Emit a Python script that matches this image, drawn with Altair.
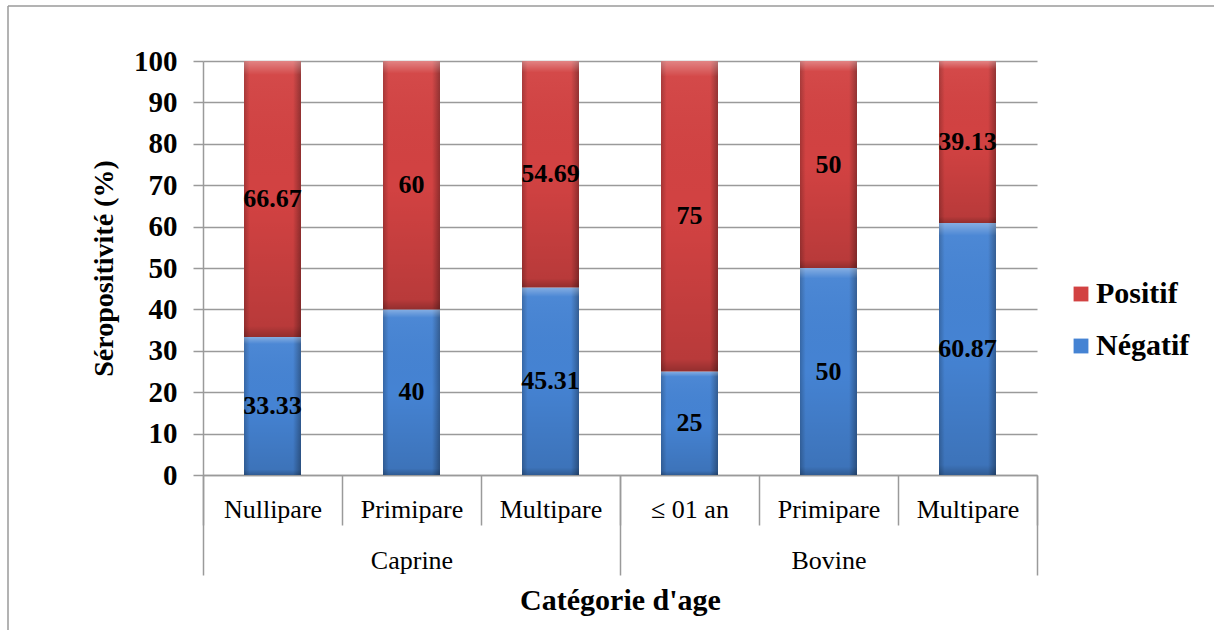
import altair as alt
import pandas as pd

# Séropositivité par catégorie d'âge (en %)
groups = ["Caprine", "Caprine", "Caprine", "Bovine", "Bovine", "Bovine"]
age_classes = ["Nullipare", "Primipare", "Multipare", "≤ 01 an", "Primipare", "Multipare"]
negatif = [33.33, 40, 45.31, 25, 50, 60.87]
positif = [66.67, 60, 54.69, 75, 50, 39.13]
group_order = ["Caprine", "Bovine"]
series = ["Positif", "Négatif"]
series_colors = ["#d24242", "#4583d3"]
y_ticks = list(range(0, 101, 10))

FONT = "Liberation Serif"
GRAY = "#9a9a9a"

keys = [f"{i}|{a}" for i, a in enumerate(age_classes)]
rows = []
for i, k in enumerate(keys):
    rows.append({"key": k, "groupe": groups[i], "serie": "Négatif", "rang": 0, "valeur": negatif[i]})
    rows.append({"key": k, "groupe": groups[i], "serie": "Positif", "rang": 1, "valeur": positif[i]})
df = pd.DataFrame(rows)

base = alt.Chart(df).transform_stack(
    stack="valeur", groupby=["key"], as_=["y0", "y1"],
    sort=[alt.SortField("rang", order="ascending")],
).transform_calculate(mid="(datum.y0 + datum.y1) / 2")

x_enc = alt.X(
    "key:N", sort=keys,
    scale=alt.Scale(paddingInner=0, paddingOuter=0),
    axis=alt.Axis(
        title=None, orient="bottom", offset=0,
        labelExpr="split(datum.label, '|')[1]",
        tickBand="extent", tickSize=50, tickColor=GRAY, tickWidth=1.5,
        domainColor=GRAY, domainWidth=1.5,
        labelPadding=-16, labelBaseline="middle", labelAngle=0,
        labelFontSize=26, labelColor="black", grid=False,
    ),
)
y_enc = alt.Y(
    "y0:Q",
    scale=alt.Scale(domain=[0, 100]),
    axis=alt.Axis(
        values=y_ticks, title="Séropositivité (%)",
        titleFontSize=28, titleFontWeight="bold", titleColor="black",
        titlePadding=15,
        labelFontSize=29, labelFontWeight="bold", labelColor="black",
        labelPadding=16, tickSize=10, tickColor=GRAY, tickWidth=1.5,
        domainColor=GRAY, domainWidth=1.5,
        grid=True, gridColor=GRAY, gridWidth=1.5,
    ),
)

bar_width = alt.RelativeBandSize(0.41)

bars = base.mark_bar(width=bar_width).encode(
    x=x_enc, y=y_enc, y2="y1:Q",
    color=alt.Color(
        "serie:N",
        scale=alt.Scale(domain=series, range=series_colors),
        legend=alt.Legend(
            title=None, orient="none", legendX=863, legendY=218,
            symbolType="square", symbolSize=220, symbolStrokeWidth=0,
            labelFontSize=30, labelFontWeight="bold", labelColor="black",
            rowPadding=22, labelOffset=0,
        ),
    ),
)

# bevel shading on the bar edges
shade_side = alt.Gradient(
    gradient="linear", x1=0, y1=0, x2=1, y2=0,
    stops=[
        alt.GradientStop(offset=0, color="rgba(0,0,0,0.22)"),
        alt.GradientStop(offset=0.1, color="rgba(0,0,0,0)"),
        alt.GradientStop(offset=0.86, color="rgba(0,0,0,0)"),
        alt.GradientStop(offset=1, color="rgba(0,0,0,0.32)"),
    ],
)
shade_vert = alt.Gradient(
    gradient="linear", x1=0, y1=0, x2=0, y2=1,
    stops=[
        alt.GradientStop(offset=0, color="rgba(255,255,255,0.35)"),
        alt.GradientStop(offset=0.05, color="rgba(255,255,255,0.04)"),
        alt.GradientStop(offset=0.5, color="rgba(0,0,0,0)"),
        alt.GradientStop(offset=0.96, color="rgba(0,0,0,0.12)"),
        alt.GradientStop(offset=1, color="rgba(0,0,0,0.3)"),
    ],
)
side = base.mark_bar(width=bar_width, color=shade_side).encode(x=x_enc, y=y_enc, y2="y1:Q")
vert = base.mark_bar(width=bar_width, color=shade_vert).encode(x=x_enc, y=y_enc, y2="y1:Q")

labels = base.mark_text(
    fontSize=26, fontWeight="bold", color="black", baseline="middle"
).encode(
    x=x_enc,
    y=alt.Y("mid:Q"),
    text=alt.Text("valeur:Q", format=".2~f"),
)

main = alt.layer(bars, side, vert, labels)

grp = alt.Chart(pd.DataFrame({"groupe": group_order})).mark_point(opacity=0).encode(
    x=alt.X(
        "groupe:N", sort=group_order,
        scale=alt.Scale(paddingInner=0, paddingOuter=0),
        axis=alt.Axis(
            orient="bottom", offset=0, title="Catégorie d'age",
            titleFontSize=30, titleFontWeight="bold", titleColor="black",
            titlePadding=10,
            tickBand="extent", tickSize=100, tickColor=GRAY, tickWidth=1.5,
            domain=False, labelPadding=-15, labelBaseline="middle", labelAngle=0,
            labelFontSize=26, labelColor="black", grid=False,
        ),
    ),
    y=alt.value(0),
)

frame_df = pd.DataFrame({"f": [0]})
frame_left = alt.Chart(frame_df).mark_rule(color=GRAY, strokeWidth=1.5).encode(
    x=alt.value(-195), y=alt.value(-55), y2=alt.value(569)
)
frame_top = alt.Chart(frame_df).mark_rule(color=GRAY, strokeWidth=1.5).encode(
    x=alt.value(-195), x2=alt.value(1011), y=alt.value(-55)
)

chart = alt.layer(main, grp, frame_left, frame_top).resolve_scale(x="independent").properties(
    width=834, height=414,
    padding={"left": 203, "top": 61, "right": 177, "bottom": 155},
    autosize=alt.AutoSizeParams(type="none"),
).configure_view(
    stroke=None
).configure_axis(
    labelFont=FONT, titleFont=FONT
).configure_legend(
    labelFont=FONT, titleFont=FONT
).configure_text(
    font=FONT
)

chart.save("out.html", embed_options={"renderer": "svg", "actions": False})
